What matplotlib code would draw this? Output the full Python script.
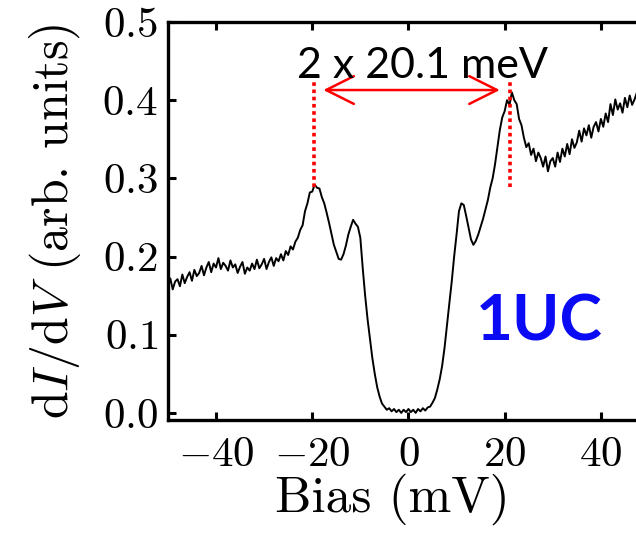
import numpy as np
import matplotlib
matplotlib.use("Agg")
import matplotlib.pyplot as plt

plt.rcParams['font.family'] = 'serif'
plt.rcParams['font.serif'] = ['cmr10']
plt.rcParams['mathtext.fontset'] = 'cm'
plt.rcParams['axes.formatter.use_mathtext'] = True

# Bias grid (mV), 0.5 mV steps
bias = np.arange(-50, 50.5, 0.5)
didv = [
    # -50 .. -23
    0.160, 0.172, 0.158, 0.168, 0.171, 0.162, 0.177, 0.166, 0.174, 0.180,
    0.169, 0.183, 0.175, 0.179, 0.188, 0.176, 0.186, 0.193, 0.180, 0.191,
    0.186, 0.198, 0.184, 0.192, 0.188, 0.182, 0.195, 0.186, 0.190, 0.179,
    0.187, 0.193, 0.178, 0.186, 0.182, 0.191, 0.184, 0.196, 0.185, 0.190,
    0.197, 0.184, 0.193, 0.199, 0.188, 0.198, 0.194, 0.203, 0.195, 0.207,
    0.202, 0.213, 0.209, 0.219, 0.224,
    # -22.5 .. 23.5
    0.234, 0.240, 0.258, 0.268, 0.282,
    0.283, 0.292, 0.288, 0.287, 0.276, 0.268, 0.256, 0.243, 0.229, 0.215,
    0.206, 0.197, 0.196, 0.203, 0.214, 0.228, 0.238, 0.247, 0.242, 0.238,
    0.224, 0.185, 0.150, 0.120, 0.095, 0.070, 0.050, 0.033, 0.021, 0.012,
    0.008, 0.004, 0.006, 0.002, 0.005, 0.001, 0.004, 0.000, 0.004, 0.001,
    0.005, 0.001, 0.004, 0.000, 0.005, 0.002, 0.006, 0.003, 0.007, 0.008,
    0.013, 0.019, 0.030, 0.043, 0.060, 0.083, 0.112, 0.140, 0.168, 0.200,
    0.228, 0.258, 0.268, 0.266, 0.252, 0.237, 0.222, 0.215, 0.220, 0.228,
    0.238, 0.248, 0.260, 0.272, 0.288, 0.300, 0.318, 0.340, 0.362, 0.378,
    0.386, 0.400, 0.394, 0.410, 0.400, 0.395, 0.376, 0.368,
    # 24 .. 50
    0.352, 0.340, 0.345, 0.330, 0.338, 0.322, 0.333, 0.326, 0.315, 0.328,
    0.309, 0.322, 0.326, 0.315, 0.333, 0.321, 0.338, 0.328, 0.344, 0.331,
    0.350, 0.339, 0.346, 0.361, 0.347, 0.364, 0.355, 0.368, 0.352, 0.366,
    0.372, 0.360, 0.376, 0.366, 0.383, 0.372, 0.395, 0.381, 0.401, 0.388,
    0.396, 0.384, 0.403, 0.391, 0.406, 0.394, 0.401, 0.410, 0.396, 0.408,
    0.399, 0.413, 0.402,
]

xticks = [-40, -20, 0, 20, 40]
yticks = [0.0, 0.1, 0.2, 0.3, 0.4, 0.5]
peak_left = -19.6
peak_right = 21.2
gap_label = "2 x 20.1 meV"
sample_label = "1UC"

fig = plt.figure(figsize=(6.36, 5.37), dpi=100)
ax = fig.add_axes([0.264, 0.218, 1.0204 - 0.264, 0.959 - 0.218])

ax.plot(bias, didv, color='black', lw=1.4)

ax.set_xlim(-50, 50)
ax.set_ylim(-0.009, 0.5)
ax.set_xticks(xticks)
ax.set_yticks(yticks)
ax.yaxis.set_major_formatter(matplotlib.ticker.FuncFormatter(lambda v, p: f"${v:.1f}$"))
ax.xaxis.set_major_formatter(matplotlib.ticker.FuncFormatter(lambda v, p: f"${int(v)}$"))

for s in ax.spines.values():
    s.set_linewidth(2.4)
ax.tick_params(direction='in', top=True, right=True, length=6, width=2.2,
               labelsize=31)
ax.tick_params(axis='x', pad=12)
ax.tick_params(axis='y', pad=7)

ax.set_xlabel('Bias (mV)', fontsize=37, labelpad=2)
ax.xaxis.set_label_coords(0.466, -0.135)
ax.xaxis.label.set_va('top')
ax.set_ylabel(r'$\mathrm{d}I/\mathrm{d}V$ (arb. units)', fontsize=36, labelpad=14)

# annotations
for xp in (peak_left, peak_right):
    ax.plot([xp, xp], [0.289, 0.424], color='red', lw=2.6, linestyle=(0, (1, 1)))
ax.annotate('', xy=(19.0, 0.413), xytext=(-17.7, 0.413),
            arrowprops=dict(arrowstyle='<->,head_length=1.0,head_width=0.5',
                            color='red', lw=1.8, mutation_scale=20,
                            shrinkA=0, shrinkB=0))
ax.text(2.9, 0.428, gap_label, family='Lato', fontsize=31, color='black',
        ha='center', va='baseline')
ax.text(14.0, 0.092, sample_label, family='Lato', fontweight='bold',
        fontsize=46, color='#0a0af5', ha='left', va='baseline')

fig.savefig('out.png', dpi=100)
